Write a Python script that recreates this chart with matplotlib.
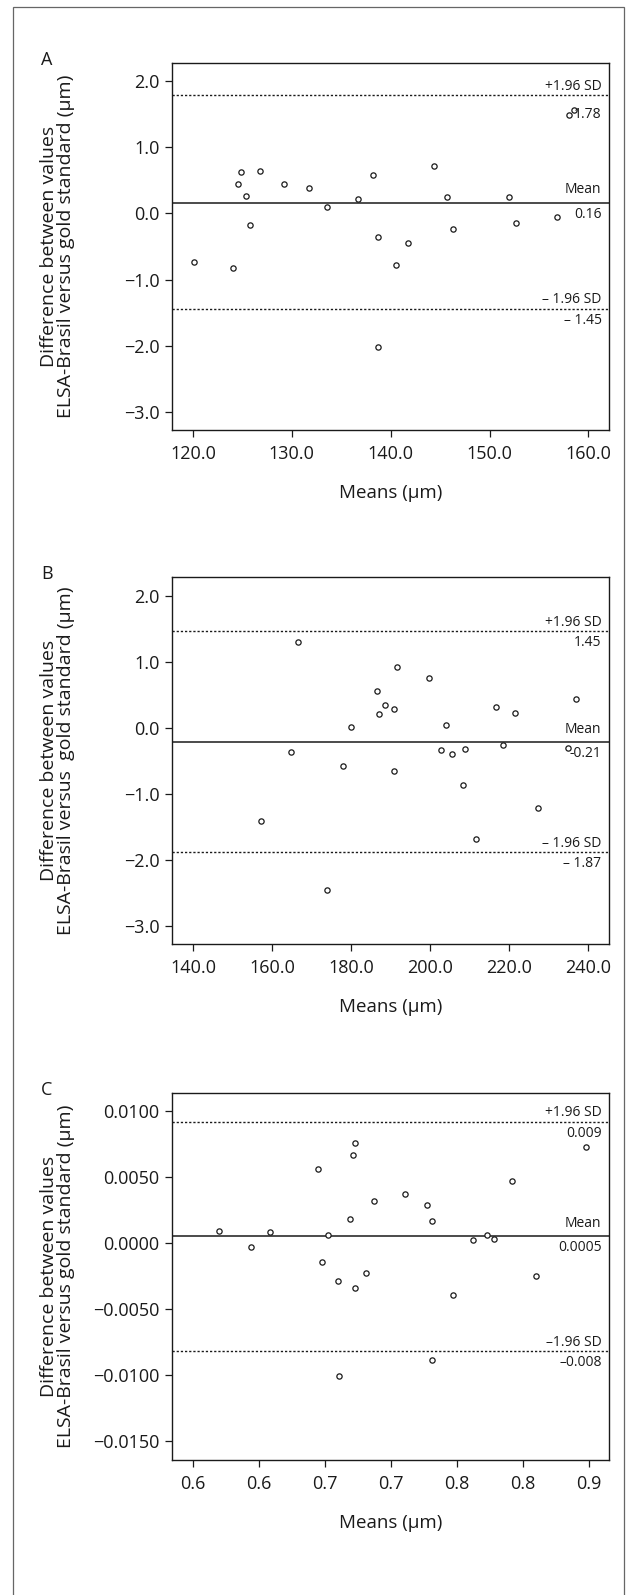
import matplotlib
matplotlib.use("Agg")
import matplotlib.pyplot as plt
from matplotlib.patches import Rectangle

plt.rcParams['font.family'] = ['Open Sans', 'DejaVu Sans']

# ---- data ----
a_means = [120.1, 124.0, 124.6, 124.9, 125.4, 125.8, 126.8, 129.2, 131.7, 133.6, 136.7, 138.2,
           138.7, 138.7, 140.5, 141.7, 144.4, 145.7, 146.3, 152.0, 152.7, 156.8, 158.0, 158.5]
a_diffs = [-0.73, -0.83, 0.45, 0.62, 0.26, -0.17, 0.64, 0.45, 0.38, 0.10, 0.21, 0.58,
           -0.35, -2.02, -0.78, -0.44, 0.71, 0.24, -0.24, 0.24, -0.15, -0.05, 1.48, 1.56]
a_lines = [1.785, 0.16, -1.44]          # +1.96 SD, mean, -1.96 SD
a_texts = ["+1.96 SD", "1.78", "Mean", "0.16", "\u2013 1.96 SD", "\u2013 1.45"]
a_xticks = [120, 130, 140, 150, 160]
a_xticklabels = ["120.0", "130.0", "140.0", "150.0", "160.0"]
a_yticks = [2, 1, 0, -1, -2, -3]
a_yticklabels = ["2.0", "1.0", "0.0", "\u22121.0", "\u22122.0", "\u22123.0"]

b_means = [157.2, 164.7, 166.7, 174.0, 177.9, 180.1, 186.5, 187.0, 188.7, 190.9, 191.0, 191.6, 199.7,
           202.7, 204.0, 205.7, 208.4, 209.0, 211.6, 216.7, 218.6, 221.7, 227.5, 235.1, 237.0]
b_diffs = [-1.42, -0.36, 1.31, -2.46, -0.58, 0.01, 0.56, 0.21, 0.35, 0.28, -0.65, 0.93, 0.75,
           -0.34, 0.05, -0.40, -0.86, -0.32, -1.68, 0.31, -0.26, 0.23, -1.21, -0.31, 0.44]
b_lines = [1.47, -0.22, -1.89]
b_texts = ["+1.96 SD", "1.45", "Mean", "-0.21", "\u2013 1.96 SD", "\u2013 1.87"]
b_xticks = [140, 160, 180, 200, 220, 240]
b_xticklabels = ["140.0", "160.0", "180.0", "200.0", "220.0", "240.0"]
b_yticks = a_yticks
b_yticklabels = a_yticklabels

c_means = [0.620, 0.644, 0.658, 0.695, 0.698, 0.702, 0.710, 0.711, 0.719, 0.721, 0.723, 0.723, 0.731,
           0.737, 0.761, 0.777, 0.781, 0.781, 0.797, 0.812, 0.823, 0.828, 0.842, 0.860, 0.898]
c_diffs = [0.0009, -0.0003, 0.0008, 0.0056, -0.0014, 0.0006, -0.0029, -0.0101, 0.0018, 0.0067, 0.0076,
           -0.0034, -0.0023, 0.0032, 0.0037, 0.0029, 0.0017, -0.0089, -0.0039, 0.0002, 0.0006, 0.0003,
           0.0047, -0.0025, 0.0073]
c_lines = [0.0092, 0.0005, -0.0082]
c_texts = ["+1.96 SD", "0.009", "Mean", "0.0005", "\u20131.96 SD", "\u20130.008"]
c_xticks = [0.60, 0.65, 0.70, 0.75, 0.80, 0.85, 0.90]
c_xticklabels = ["0.6", "0.6", "0.7", "0.7", "0.8", "0.8", "0.9"]
c_yticks = [0.01, 0.005, 0.0, -0.005, -0.01, -0.015]
c_yticklabels = ["0.0100", "0.0050", "0.0000", "\u22120.0050", "\u22120.0100", "\u22120.0150"]

ylabel_a = "Difference between values\nELSA-Brasil versus gold standard (\u00b5m)"
ylabel_b = "Difference between values\nELSA-Brasil versus  gold standard (\u00b5m)"
xlabel = "Means (\u00b5m)"

# ---- layout (pixels) ----
W, H = 632, 1595
fig = plt.figure(figsize=(W / 100, H / 100), dpi=100)
fig.patches.append(Rectangle((13 / W, -0.01), (624 - 13) / W, 1.01 - 7 / H,
                             transform=fig.transFigure, fill=False, ec='#666666', lw=0.9))

ink = '#1a1a1a'


def panel(letter, top, xlim, ylim, means, diffs, lines, texts,
          xt, xtl, yt, ytl, ylab):
    left, right, height = 172, 609, 367
    ax = fig.add_axes([left / W, 1 - (top + height) / H, (right - left) / W, height / H])
    ax.axhline(lines[0], color=ink, lw=1.0, ls=(0, (1.6, 1.4)))
    ax.axhline(lines[1], color=ink, lw=1.1)
    ax.axhline(lines[2], color=ink, lw=1.0, ls=(0, (1.6, 1.4)))
    ax.plot(means, diffs, 'o', ms=3.8, mfc='white', mec=ink, mew=0.9, zorder=3)
    ax.set_xlim(*xlim)
    ax.set_ylim(*ylim)
    ax.set_xticks(xt)
    ax.set_xticklabels(xtl)
    ax.set_yticks(yt)
    ax.set_yticklabels(ytl)
    ax.tick_params(direction='out', length=5, width=0.9, color=ink,
                   labelsize=13, labelcolor=ink, pad=4)
    ax.tick_params(axis='x', pad=6)
    for s in ax.spines.values():
        s.set_color(ink)
        s.set_linewidth(1.0)

    # labels at the limit lines (offsets in points)
    offs = [6.5, -8.3, 9.3, -8.3, 6.5, -8.3]
    if letter == 'A':
        offs[1] = -14
    for i, t in enumerate(texts):
        ax.annotate(t, xy=(0.983, lines[i // 2]), xycoords=('axes fraction', 'data'),
                    xytext=(0, offs[i]), textcoords='offset points',
                    ha='right', va='center', fontsize=10, color=ink)

    ax.text(0.5, -63 / height, xlabel, transform=ax.transAxes,
            ha='center', va='center', fontsize=13.5, color=ink)
    ax.text((57.5 - left) / (right - left), 0.5, ylab, transform=ax.transAxes,
            rotation=90, ha='center', va='center', multialignment='center',
            linespacing=0.95, fontsize=14, color=ink)
    fig.text(47 / W, 1 - (top - 3) / H, letter, ha='center', va='center',
             fontsize=13, color=ink)
    return ax


panel('A', 63, (117.88, 162.08), (-3.27, 2.27), a_means, a_diffs, a_lines, a_texts,
      a_xticks, a_xticklabels, a_yticks, a_yticklabels, ylabel_a)
panel('B', 577, (134.65, 245.4), (-3.28, 2.29), b_means, b_diffs, b_lines, b_texts,
      b_xticks, b_xticklabels, b_yticks, b_yticklabels, ylabel_b)
panel('C', 1093, (0.5841, 0.9152), (-0.01644, 0.01137), c_means, c_diffs, c_lines, c_texts,
      c_xticks, c_xticklabels, c_yticks, c_yticklabels, ylabel_a)

fig.savefig("out.png", dpi=100)
